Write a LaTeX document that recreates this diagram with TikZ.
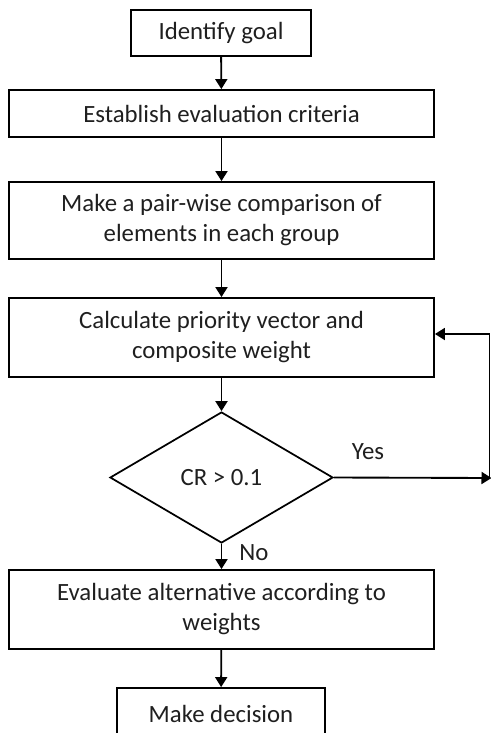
\documentclass[tikz,border=0pt]{standalone}
\usepackage{fontspec}
\setmainfont{Carlito}
\usetikzlibrary{shapes.geometric,arrows.meta}
\begin{document}
\begin{tikzpicture}[x=0.75pt,y=-0.75pt,
  box/.style={draw=black,line width=1.4pt,rectangle,inner sep=0pt,align=center,
    font=\fontsize{18.6}{22.5}\selectfont,text=black!88},
  dec/.style={draw=black,line width=1.3pt,diamond,inner sep=0pt,aspect=1.7,
    font=\fontsize{18.6}{22.5}\selectfont,text=black!88},
  arr/.style={line width=1.4pt,-{Triangle[length=7.5pt,width=9pt]}},
  lbl/.style={font=\fontsize{18.6}{22.5}\selectfont,text=black!88,inner sep=0pt}]
\useasboundingbox (0,0) rectangle (491,733);
\begin{scope}
\clip (0,0) rectangle (491,733);
\node[box,minimum width=180*0.75pt,minimum height=46*0.75pt] (b1) at (221,33) {Identify goal};
\node[box,minimum width=425*0.75pt,minimum height=47*0.75pt] (b2) at (221.5,113.5) {Establish evaluation criteria};
\node[box,minimum width=425*0.75pt,minimum height=77*0.75pt] (b3) at (221.5,220.5) {Make a pair-wise comparison of\\elements in each group};
\node[box,minimum width=425*0.75pt,minimum height=79*0.75pt] (b4) at (221.5,337.5) {Calculate priority vector and\\composite weight};
\node[dec,minimum width=223*0.75pt,minimum height=131*0.75pt] (d) at (221.5,477.5) {\raisebox{-0.3ex}{CR > 0.1}};
\node[box,minimum width=425*0.75pt,minimum height=79*0.75pt] (b5) at (221.5,609.5) {Evaluate alternative according to\\weights};
\node[box,minimum width=208*0.75pt,minimum height=51*0.75pt] (b6) at (221,713.5) {Make decision};
\coordinate (r1) at (489.5,478);
\coordinate (r2) at (489.5,334);
\draw[arr] (b1) -- (b2);
\draw[arr] (b2) -- (b3);
\draw[arr] (b3) -- (b4);
\draw[arr] (b4) -- (d);
\draw[arr] (d) -- (b5);
\draw[arr] (b5) -- (b6);
\draw[arr] (d.east) -- ([xshift=1.5pt]r1);
\draw[arr] (r1) -- (r2) -- (b4.east |- r2);
\node[lbl] (yes) at (368,452) {Yes};
\node[lbl] (no) at (254,553) {No};
\end{scope}
\end{tikzpicture}
\end{document}
